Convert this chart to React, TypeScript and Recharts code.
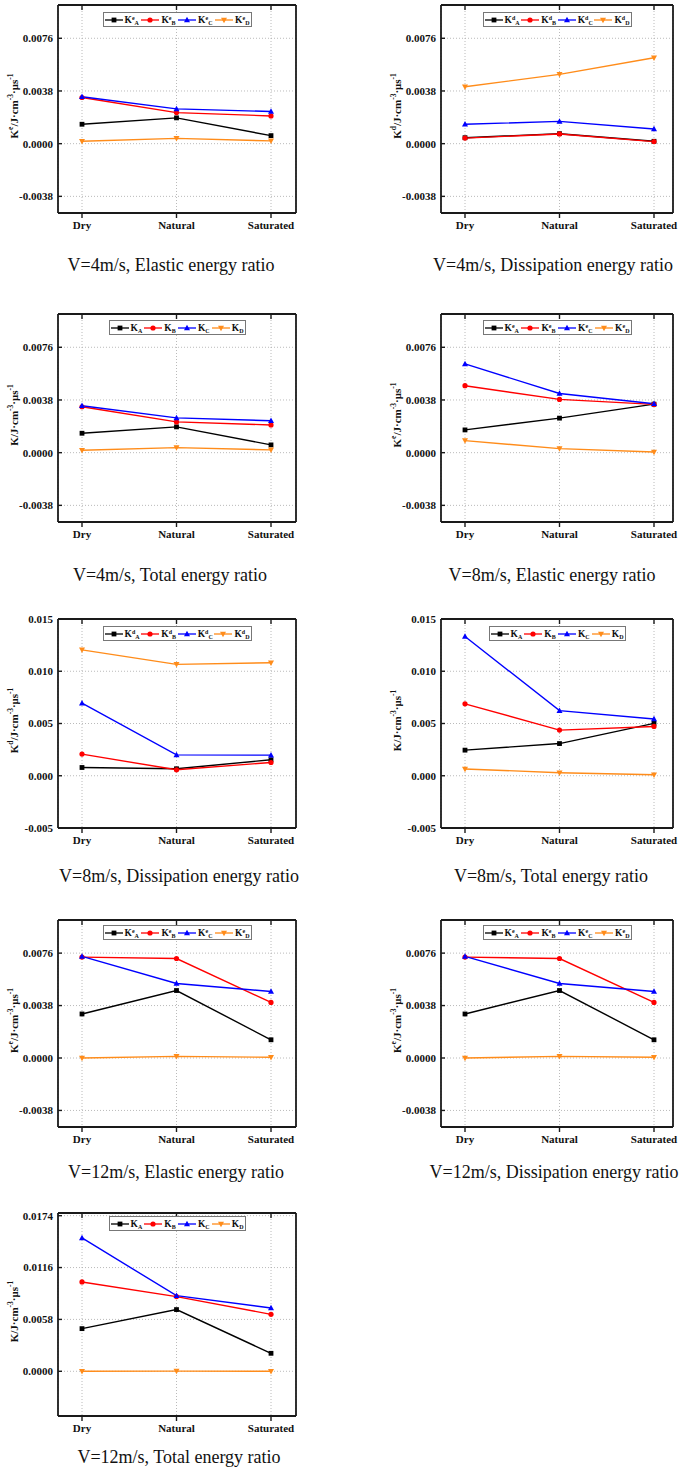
import React from "react";
import { LineChart, Line, XAxis, YAxis, CartesianGrid, Legend, Label } from "recharts";

const conditions = ["Dry", "Natural", "Saturated"];

// V=4m/s
const v4ElasticA = [0.0014, 0.00186, 0.00058];
const v4ElasticB = [0.00333, 0.00224, 0.002];
const v4ElasticC = [0.00338, 0.00251, 0.00232];
const v4ElasticD = [0.00017, 0.00038, 0.0002];

const v4DissA = [0.00043, 0.00072, 0.00017];
const v4DissB = [0.0004, 0.0007, 0.00015];
const v4DissC = [0.0014, 0.00161, 0.00106];
const v4DissD = [0.0041, 0.005, 0.0062];

const v4TotalA = [0.0014, 0.00186, 0.00056];
const v4TotalB = [0.00331, 0.00222, 0.002];
const v4TotalC = [0.00338, 0.00251, 0.0023];
const v4TotalD = [0.00017, 0.00036, 0.0002];

// V=8m/s
const v8ElasticA = [0.00164, 0.00249, 0.0035];
const v8ElasticB = [0.00483, 0.00384, 0.00348];
const v8ElasticC = [0.0064, 0.00427, 0.00353];
const v8ElasticD = [0.00087, 0.00029, 0.00005];

const v8DissA = [0.00079, 0.00067, 0.00153];
const v8DissB = [0.00207, 0.00057, 0.00127];
const v8DissC = [0.00694, 0.002, 0.00197];
const v8DissD = [0.01205, 0.01066, 0.01081];

const v8TotalA = [0.00245, 0.00308, 0.00501];
const v8TotalB = [0.00688, 0.00437, 0.00472];
const v8TotalC = [0.01333, 0.00623, 0.00543];
const v8TotalD = [0.00065, 0.00029, 0.0001];

// V=12m/s
const v12ElasticA = [0.00319, 0.00489, 0.00132];
const v12ElasticB = [0.00731, 0.00721, 0.00403];
const v12ElasticC = [0.00736, 0.0054, 0.00482];
const v12ElasticD = [0.0, 0.00012, 0.00005];

const v12DissA = [0.00319, 0.00489, 0.00132];
const v12DissB = [0.00731, 0.00721, 0.00403];
const v12DissC = [0.00736, 0.0054, 0.00482];
const v12DissD = [0.0, 0.00012, 0.00005];

const v12TotalA = [0.00477, 0.0069, 0.00201];
const v12TotalB = [0.00999, 0.00835, 0.00637];
const v12TotalC = [0.01491, 0.00846, 0.00708];
const v12TotalD = [0.0, 0.00002, 0.00001];

const ticksSmall = [-0.0038, 0, 0.0038, 0.0076];
const ticksWide = [-0.005, 0, 0.005, 0.01, 0.015];
const ticksTotal12 = [0, 0.0058, 0.0116, 0.0174];

const serif = '"Liberation Serif", "Times New Roman", serif';

const seriesStyle = [
  { key: "A", color: "#000000", shape: "square" },
  { key: "B", color: "#ff0000", shape: "circle" },
  { key: "C", color: "#0000ff", shape: "up" },
  { key: "D", color: "#ff8c1a", shape: "down" },
];

const marker = (shape: string, color: string, cx: number, cy: number, key?: string) => {
  if (shape === "square")
    return <rect key={key} x={cx - 2.4} y={cy - 2.4} width={4.8} height={4.8} fill={color} />;
  if (shape === "circle") return <circle key={key} cx={cx} cy={cy} r={2.6} fill={color} />;
  if (shape === "up")
    return <polygon key={key} points={`${cx},${cy - 3.2} ${cx - 3},${cy + 2.3} ${cx + 3},${cy + 2.3}`} fill={color} />;
  return <polygon key={key} points={`${cx},${cy + 3.2} ${cx - 3},${cy - 2.3} ${cx + 3},${cy - 2.3}`} fill={color} />;
};

const columns = [
  { left: 58, width: 238, padL: 24, padR: 25 },
  { left: 441, width: 232, padL: 24, padR: 19 },
];

const panels = [
  { title: "V=4m/s, Elastic energy ratio", sup: "e", values: [v4ElasticA, v4ElasticB, v4ElasticC, v4ElasticD], domain: [-0.005, 0.01], ticks: ticksSmall, digits: 4, col: 0, top: 5, height: 208, legendTop: 7, captionX: 171, captionY: 265 },
  { title: "V=4m/s, Dissipation energy ratio", sup: "d", values: [v4DissA, v4DissB, v4DissC, v4DissD], domain: [-0.005, 0.01], ticks: ticksSmall, digits: 4, col: 1, top: 5, height: 208, legendTop: 7, captionX: 553, captionY: 265 },
  { title: "V=4m/s, Total energy ratio", sup: "", values: [v4TotalA, v4TotalB, v4TotalC, v4TotalD], domain: [-0.005, 0.01], ticks: ticksSmall, digits: 4, col: 0, top: 314, height: 208, legendTop: 6, captionX: 170, captionY: 575 },
  { title: "V=8m/s, Elastic energy ratio", sup: "e", values: [v8ElasticA, v8ElasticB, v8ElasticC, v8ElasticD], domain: [-0.005, 0.01], ticks: ticksSmall, digits: 4, col: 1, top: 314, height: 208, legendTop: 6, captionX: 552, captionY: 575 },
  { title: "V=8m/s, Dissipation energy ratio", sup: "d", values: [v8DissA, v8DissB, v8DissC, v8DissD], domain: [-0.005, 0.015], ticks: ticksWide, digits: 3, col: 0, top: 619, height: 209, legendTop: 7, captionX: 179, captionY: 876 },
  { title: "V=8m/s, Total energy ratio", sup: "", values: [v8TotalA, v8TotalB, v8TotalC, v8TotalD], domain: [-0.005, 0.015], ticks: ticksWide, digits: 3, col: 1, top: 619, height: 209, legendTop: 7, captionX: 551, captionY: 876 },
  { title: "V=12m/s, Elastic energy ratio", sup: "e", values: [v12ElasticA, v12ElasticB, v12ElasticC, v12ElasticD], domain: [-0.005, 0.01], ticks: ticksSmall, digits: 4, col: 0, top: 920, height: 207, legendTop: 5, captionX: 176, captionY: 1172 },
  { title: "V=12m/s, Dissipation energy ratio", sup: "e", values: [v12DissA, v12DissB, v12DissC, v12DissD], domain: [-0.005, 0.01], ticks: ticksSmall, digits: 4, col: 1, top: 920, height: 207, legendTop: 5, captionX: 554, captionY: 1172 },
  { title: "V=12m/s, Total energy ratio", sup: "", values: [v12TotalA, v12TotalB, v12TotalC, v12TotalD], domain: [-0.005, 0.0177], ticks: ticksTotal12, digits: 4, col: 0, top: 1213, height: 203, legendTop: 3, captionX: 179, captionY: 1457 },
];

const LegendBox = ({ sup }: { sup: string }) => (
  <div
    style={{
      display: "flex",
      alignItems: "center",
      justifyContent: "space-between",
      border: "1px solid #777",
      height: 15,
      boxSizing: "border-box",
      padding: "0 1px",
      background: "#fff",
      fontFamily: serif,
      fontWeight: "bold",
      fontSize: 9.5,
      color: "#111",
      lineHeight: "10px",
    }}
  >
    {seriesStyle.map((s) => (
      <span key={s.key} style={{ display: "flex", alignItems: "center" }}>
        <svg width={18} height={10}>
          <line x1={0} y1={5} x2={18} y2={5} stroke={s.color} strokeWidth={1.3} />
          {marker(s.shape, s.color, 9, 5)}
        </svg>
        <span style={{ marginLeft: 2, whiteSpace: "nowrap" }}>
          K
          {sup && <sup style={{ fontSize: 6, verticalAlign: 3, lineHeight: 0 }}>{sup}</sup>}
          <sub style={{ fontSize: 6, verticalAlign: -2, lineHeight: 0 }}>{s.key}</sub>
        </span>
      </span>
    ))}
  </div>
);

const EmptyTick = () => <g />;

const Panel = ({ p }: { p: (typeof panels)[number] }) => {
  const col = columns[p.col];
  const mTop = 4, mLeft = 8, mRight = 13, mBottom = 5, axisW = 50, xAxisH = 25;
  const width = mLeft + axisW + col.width + 1 + mRight;
  const height = mTop + 1 + p.height + xAxisH + mBottom;
  const data = conditions.map((c, i) => ({
    cond: c,
    A: p.values[0][i],
    B: p.values[1][i],
    C: p.values[2][i],
    D: p.values[3][i],
  }));
  const legendW = p.sup ? 149 : 137;
  const frame = { stroke: "#1a1a1a", strokeWidth: 1.8 };
  const tickStroke = { stroke: "#1a1a1a", strokeWidth: 1.4 };
  const plotTop = mTop + 1;
  const labelX = mLeft + axisW - 44;
  const labelY = plotTop + p.height / 2 - 3;
  const tickFont = { fontFamily: serif, fontWeight: "bold", fontSize: 11, fill: "#111" };

  return (
    <div style={{ position: "absolute", left: col.left - mLeft - axisW, top: p.top - plotTop }}>
      <LineChart width={width} height={height} data={data} margin={{ top: mTop, right: mRight, left: mLeft, bottom: mBottom }}>
        <CartesianGrid stroke="#a8a8a8" strokeDasharray="1 2" strokeWidth={0.8} />
        <XAxis
          dataKey="cond"
          height={xAxisH}
          interval={0}
          padding={{ left: col.padL, right: col.padR }}
          axisLine={frame}
          tickLine={tickStroke}
          tickSize={5}
          tickMargin={3}
          tick={tickFont}
        />
        <XAxis
          xAxisId="top"
          orientation="top"
          dataKey="cond"
          height={1}
          interval={0}
          padding={{ left: col.padL, right: col.padR }}
          axisLine={frame}
          tickLine={tickStroke}
          tickSize={-5}
          tick={EmptyTick}
        />
        <YAxis
          type="number"
          domain={p.domain}
          ticks={p.ticks}
          width={axisW}
          interval={0}
          axisLine={frame}
          tickLine={tickStroke}
          tickSize={-4}
          tickMargin={9}
          tick={tickFont}
          tickFormatter={(v: number) => v.toFixed(p.digits)}
        >
          <Label
            content={() => (
              <text
                x={labelX}
                y={labelY}
                transform={`rotate(-90, ${labelX}, ${labelY})`}
                textAnchor="middle"
                dominantBaseline="central"
                fontFamily={serif}
                fontWeight="bold"
                fontSize={11}
                fill="#111"
              >
                <tspan>K</tspan>
                {p.sup && (
                  <tspan dy={-4} fontSize={7.5}>
                    {p.sup}
                  </tspan>
                )}
                <tspan dy={p.sup ? 4 : 0}>/J·cm</tspan>
                <tspan dy={-4} fontSize={7.5}>
                  -3
                </tspan>
                <tspan dy={4}>·μs</tspan>
                <tspan dy={-4} fontSize={7.5}>
                  -1
                </tspan>
              </text>
            )}
          />
        </YAxis>
        <YAxis
          yAxisId="right"
          orientation="right"
          type="number"
          domain={p.domain}
          ticks={p.ticks}
          width={1}
          interval={0}
          axisLine={frame}
          tickLine={tickStroke}
          tickSize={-4}
          tick={EmptyTick}
        />
        <Legend
          verticalAlign="middle"
          align="center"
          layout="horizontal"
          wrapperStyle={{
            left: mLeft + axisW + (col.width - legendW) / 2,
            top: plotTop + p.legendTop,
            width: legendW,
            height: 15,
          }}
          content={() => <LegendBox sup={p.sup} />}
        />
        {seriesStyle.map((s) => (
          <Line
            key={s.key}
            type="linear"
            dataKey={s.key}
            stroke={s.color}
            strokeWidth={1.4}
            dot={(props: any) => marker(s.shape, s.color, props.cx, props.cy, `dot-${s.key}-${props.index}`)}
            activeDot={false}
            isAnimationActive={false}
          />
        ))}
      </LineChart>
    </div>
  );
};

export default function App() {
  return (
    <div style={{ position: "absolute", left: 0, top: 0, width: 685, height: 1473, background: "#fff" }}>
      {panels.map((p) => (
        <React.Fragment key={p.title}>
          <Panel p={p} />
          <div
            style={{
              position: "absolute",
              left: p.captionX - 170,
              top: p.captionY - 11,
              width: 340,
              textAlign: "center",
              fontFamily: serif,
              fontSize: 18,
              lineHeight: "22px",
              color: "#111",
            }}
          >
            {p.title}
          </div>
        </React.Fragment>
      ))}
    </div>
  );
}
